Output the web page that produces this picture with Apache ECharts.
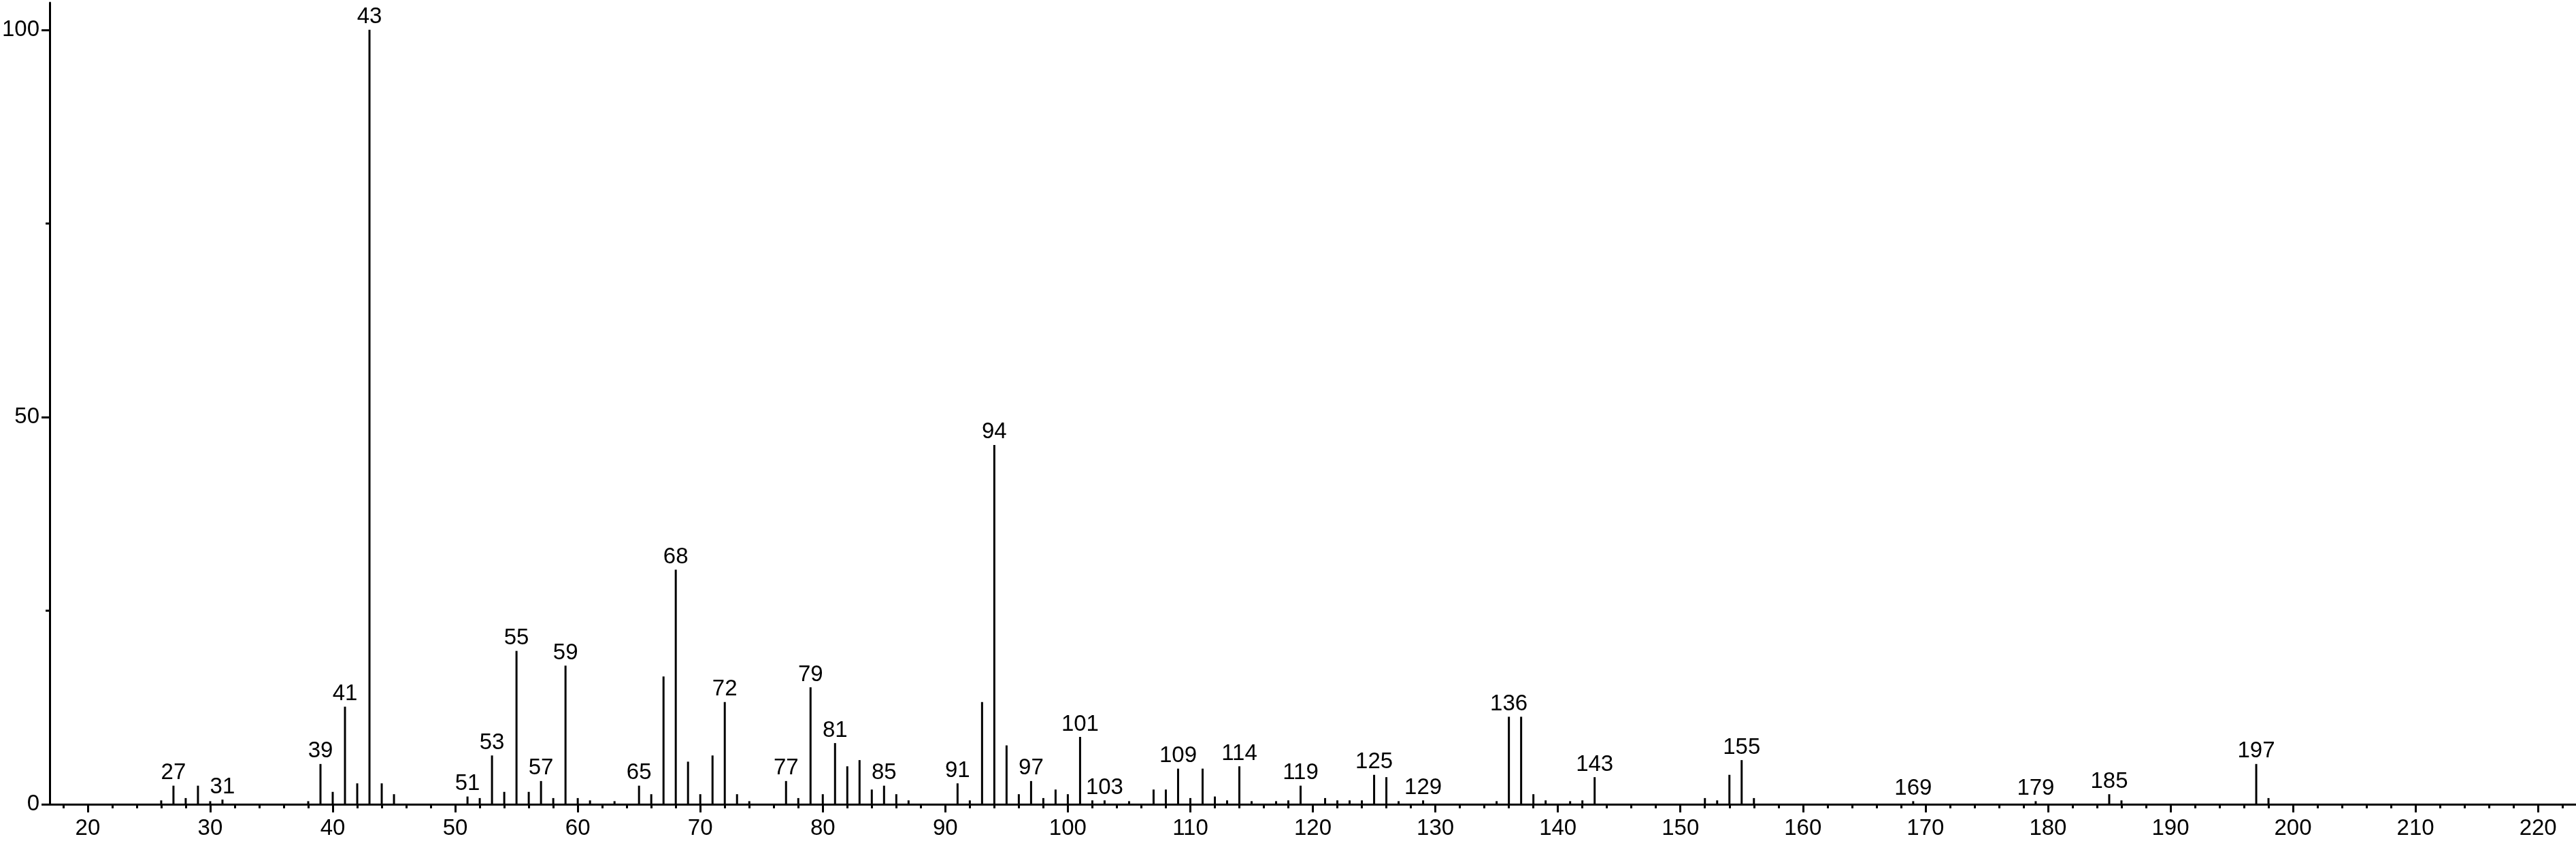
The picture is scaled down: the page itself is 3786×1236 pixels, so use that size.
<!DOCTYPE html>
<html>
<head>
<meta charset="utf-8">
<script src="https://cdn.jsdelivr.net/npm/echarts@6/dist/echarts.min.js"></script>
<style>
html,body{margin:0;padding:0;background:#fff;}
#chart{width:3786px;height:1236px;}
</style>
</head>
<body>
<div id="chart"></div>
<script>
// m/z values and relative intensities (%)
const mz = [26,27,28,29,30,31,38,39,40,41,42,43,44,45,
  51,52,53,54,55,56,57,58,59,60,61,63,65,66,67,68,69,70,71,72,73,74,77,78,79,80,
  81,82,83,84,85,86,87,91,92,93,94,95,96,97,98,99,100,101,102,103,105,107,108,109,110,
  111,112,113,114,115,117,118,119,121,122,123,124,125,126,127,129,135,136,137,138,139,
  141,142,143,152,153,154,155,156,169,179,185,186,197,198];
const intensity = [0.5,2.4,0.8,2.4,0.4,0.6,0.4,5.2,1.6,12.6,2.7,100,2.7,1.3,
  1.0,0.8,6.3,1.6,19.8,1.6,3.0,0.8,17.9,0.8,0.5,0.4,2.4,1.3,16.5,30.3,5.5,1.3,6.3,13.2,1.3,0.4,3.0,0.8,15.1,1.3,
  7.9,4.9,5.7,1.9,2.4,1.3,0.5,2.7,0.5,13.2,46.4,7.6,1.3,3.0,0.8,1.9,1.3,8.7,0.5,0.5,0.4,1.9,1.9,4.6,0.8,
  4.6,1.0,0.5,4.9,0.4,0.4,0.5,2.4,0.8,0.5,0.5,0.5,3.8,3.5,0.4,0.5,0.4,11.3,11.3,1.3,0.5,
  0.4,0.5,3.5,0.8,0.5,3.8,5.7,0.8,0.4,0.4,1.3,0.5,5.2,0.8];
const labelled = [27,31,39,41,43,51,53,55,57,59,65,68,72,77,79,81,85,91,94,97,101,103,
  109,114,119,125,129,136,143,155,169,179,185,197];
const xMajorTicks = [20,30,40,50,60,70,80,90,100,110,120,130,140,150,160,170,180,190,200,210,220];
const xMinorTicks = [18,22,24,26,28,32,34,36,38,42,44,46,48,52,54,56,58,62,64,66,68,72,74,76,78,
  82,84,86,88,92,94,96,98,102,104,106,108,112,114,116,118,122,124,126,128,132,134,136,138,
  142,144,146,148,152,154,156,158,162,164,166,168,172,174,176,178,182,184,186,188,192,194,196,198,
  202,204,206,208,212,214,216,218,222];
const yMajorTicks = [0,50,100];
const yMinorTicks = [25,75];

const FONT = "'Liberation Sans', Arial, Helvetica, sans-serif";
const data = mz.map((m, i) => ({
  value: [m, intensity[i]],
  label: { show: labelled.indexOf(m) >= 0 }
}));

const chart = echarts.init(document.getElementById('chart'), null, { renderer: 'canvas' });
chart.setOption({
  animation: false,
  backgroundColor: '#ffffff',
  grid: { left: 70, right: 0, top: 4, bottom: 54, containLabel: false },
  xAxis: [{
    type: 'value', min: 16.9, max: 223.1, position: 'bottom',
    axisLine: { show: true, onZero: false, lineStyle: { color: '#000', width: 3 } },
    axisTick: { show: true, customValues: xMajorTicks, length: 12, lineStyle: { color: '#000', width: 3 } },
    axisLabel: { show: true, customValues: xMajorTicks, margin: 19, fontSize: 33, color: '#000', fontFamily: FONT },
    splitLine: { show: false }
  }, {
    type: 'value', min: 16.9, max: 223.1, position: 'bottom',
    axisLine: { show: false },
    axisTick: { show: true, customValues: xMinorTicks, length: 6, lineStyle: { color: '#000', width: 3 } },
    axisLabel: { show: false },
    splitLine: { show: false }
  }],
  yAxis: [{
    type: 'value', min: 0, max: 103.5, position: 'left',
    axisLine: { show: true, onZero: false, lineStyle: { color: '#000', width: 3 } },
    axisTick: { show: true, customValues: yMajorTicks, length: 12, lineStyle: { color: '#000', width: 3 } },
    axisLabel: { show: true, customValues: yMajorTicks, margin: 15, fontSize: 33, color: '#000', fontFamily: FONT },
    splitLine: { show: false }
  }, {
    type: 'value', min: 0, max: 103.5, position: 'left',
    axisLine: { show: false },
    axisTick: { show: true, customValues: yMinorTicks, length: 6, lineStyle: { color: '#000', width: 3 } },
    axisLabel: { show: false },
    splitLine: { show: false }
  }],
  series: [{
    type: 'bar',
    xAxisIndex: 0, yAxisIndex: 0,
    barWidth: 3,
    itemStyle: { color: '#000' },
    label: {
      position: 'top', distance: 2, fontSize: 33, color: '#000', fontFamily: FONT,
      formatter: p => String(p.value[0])
    },
    data: data
  }]
});
</script>
</body>
</html>
